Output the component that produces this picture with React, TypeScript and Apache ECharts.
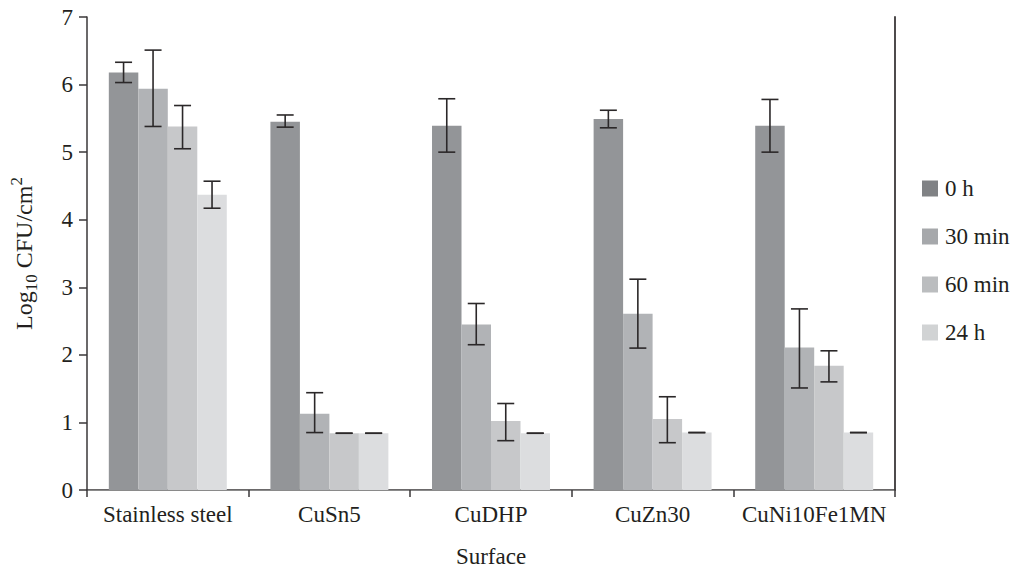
import React, { useEffect, useRef } from "react";
import * as echarts from "echarts";

const categories = ["Stainless steel", "CuSn5", "CuDHP", "CuZn30", "CuNi10Fe1MN"];
const seriesNames = ["0 h", "30 min", "60 min", "24 h"];

const values0h = [6.18, 5.45, 5.39, 5.49, 5.39];
const values30 = [5.94, 1.13, 2.45, 2.61, 2.11];
const values60 = [5.38, 0.84, 1.02, 1.05, 1.84];
const values24 = [4.37, 0.84, 0.84, 0.85, 0.85];

const low0h = [6.03, 5.37, 5.0, 5.36, 5.0];
const high0h = [6.33, 5.55, 5.79, 5.62, 5.78];
const low30 = [5.38, 0.85, 2.15, 2.1, 1.51];
const high30 = [6.51, 1.44, 2.76, 3.12, 2.68];
const low60 = [5.05, 0.84, 0.73, 0.7, 1.6];
const high60 = [5.69, 0.84, 1.28, 1.38, 2.06];
const low24 = [4.17, 0.84, 0.84, 0.85, 0.85];
const high24 = [4.57, 0.84, 0.84, 0.85, 0.85];

const yTicks = [0, 1, 2, 3, 4, 5, 6, 7];

const barColors = ["#939598", "#b1b3b6", "#c7c8ca", "#dcdddf"];
const legendColors = ["#808285", "#a6a8ab", "#bbbdbf", "#d1d3d4"];

const FONT = "'Liberation Serif', 'Times New Roman', Times, serif";
const TEXT = "#231f20";

export default function App() {
  const ref = useRef<HTMLDivElement>(null);

  useEffect(() => {
    if (!ref.current) return;
    const chart = echarts.init(ref.current, null, { renderer: "svg" });
    const valueSets = [values0h, values30, values60, values24];
    const lows = [low0h, low30, low60, low24];
    const highs = [high0h, high30, high60, high24];
    const gapRatio = 0.27;

    const barSeries = valueSets.map((vals, i) => ({
      name: seriesNames[i],
      type: "bar",
      data: vals,
      barGap: "0%",
      barCategoryGap: "27%",
      itemStyle: { color: barColors[i] },
      z: 2,
    }));

    const errSeries = valueSets.map((_, i) => ({
      name: "err" + i,
      type: "custom",
      z: 5,
      data: categories.map((_c, k) => [k, lows[i][k], highs[i][k]]),
      renderItem: (_params: any, api: any) => {
        const k = api.value(0);
        const lowP = api.coord([k, api.value(1)]);
        const highP = api.coord([k, api.value(2)]);
        const band = api.size([1, 0])[0];
        const bw = (band * (1 - gapRatio)) / 4;
        const x = lowP[0] + (i - 1.5) * bw;
        const half = 8.5;
        const style = { stroke: "#2b2829", lineWidth: 1.6 };
        return {
          type: "group",
          children: [
            { type: "line", shape: { x1: x, y1: lowP[1], x2: x, y2: highP[1] }, style },
            { type: "line", shape: { x1: x - half, y1: lowP[1], x2: x + half, y2: lowP[1] }, style },
            { type: "line", shape: { x1: x - half, y1: highP[1], x2: x + half, y2: highP[1] }, style },
          ],
        };
      },
    }));

    const option: any = {
      animation: false,
      backgroundColor: "#ffffff",
      textStyle: { fontFamily: FONT, color: TEXT },
      grid: { left: 77, top: 17, right: 120, bottom: 68, containLabel: false },
      legend: {
        orient: "vertical",
        left: 922,
        top: 177,
        padding: 0,
        itemWidth: 16,
        itemHeight: 16,
        itemGap: 25,
        icon: "rect",
        textStyle: { fontFamily: FONT, fontSize: 23, color: TEXT, padding: [0, 0, 0, 2] },
        data: seriesNames.map((n, i) => ({ name: n, itemStyle: { color: legendColors[i] } })),
      },
      xAxis: [
        {
          type: "category",
          data: categories,
          name: "Surface",
          nameLocation: "middle",
          nameGap: 55,
          nameTextStyle: { fontFamily: FONT, fontSize: 23, color: TEXT },
          axisLine: { lineStyle: { color: "#3a3738", width: 1.5 } },
          axisTick: { show: true, length: 7, inside: false, alignWithLabel: false, lineStyle: { color: "#3a3738", width: 1.5 } },
          axisLabel: { fontFamily: FONT, fontSize: 23, color: TEXT, margin: 13, interval: 0 },
          splitLine: { show: false },
        },
        {
          type: "category",
          data: categories,
          position: "top",
          axisLine: { lineStyle: { color: "#8a8a8a", width: 1.2 } },
          axisTick: { show: false },
          axisLabel: { show: false },
        },
      ],
      yAxis: [
        {
          type: "value",
          min: 0,
          max: 7,
          interval: 1,
          name: "{n|Log}{sub|10}{n| CFU/cm}{sup|2}",
          nameLocation: "middle",
          nameGap: 47,
          nameRotate: 90,
          nameTextStyle: {
            fontFamily: FONT,
            color: TEXT,
            rich: {
              n: { fontFamily: FONT, fontSize: 24, color: TEXT, lineHeight: 32, verticalAlign: "middle" },
              sub: { fontFamily: FONT, fontSize: 17, color: TEXT, lineHeight: 32, verticalAlign: "bottom" },
              sup: { fontFamily: FONT, fontSize: 17, color: TEXT, lineHeight: 32, verticalAlign: "top" },
            },
          },
          axisLine: { show: true, lineStyle: { color: "#3a3738", width: 1.5 } },
          axisTick: { show: true, length: 8, inside: false, lineStyle: { color: "#3a3738", width: 1.5 } },
          axisLabel: {
            fontFamily: FONT,
            fontSize: 23,
            color: TEXT,
            margin: 14,
            formatter: (v: number) => (yTicks.indexOf(v) >= 0 ? String(v) : ""),
          },
          splitLine: { show: false },
        },
        {
          type: "value",
          min: 0,
          max: 7,
          interval: 1,
          position: "right",
          axisLine: { show: true, lineStyle: { color: "#3a3738", width: 1.8 } },
          axisTick: { show: false },
          axisLabel: { show: false },
          splitLine: { show: false },
        },
      ],
      series: [...barSeries, ...errSeries],
    };

    chart.setOption(option);
    return () => chart.dispose();
  }, []);

  return (
    <div
      ref={ref}
      style={{ position: "absolute", left: 0, top: 0, width: 1015, height: 573, overflow: "visible" }}
    />
  );
}
